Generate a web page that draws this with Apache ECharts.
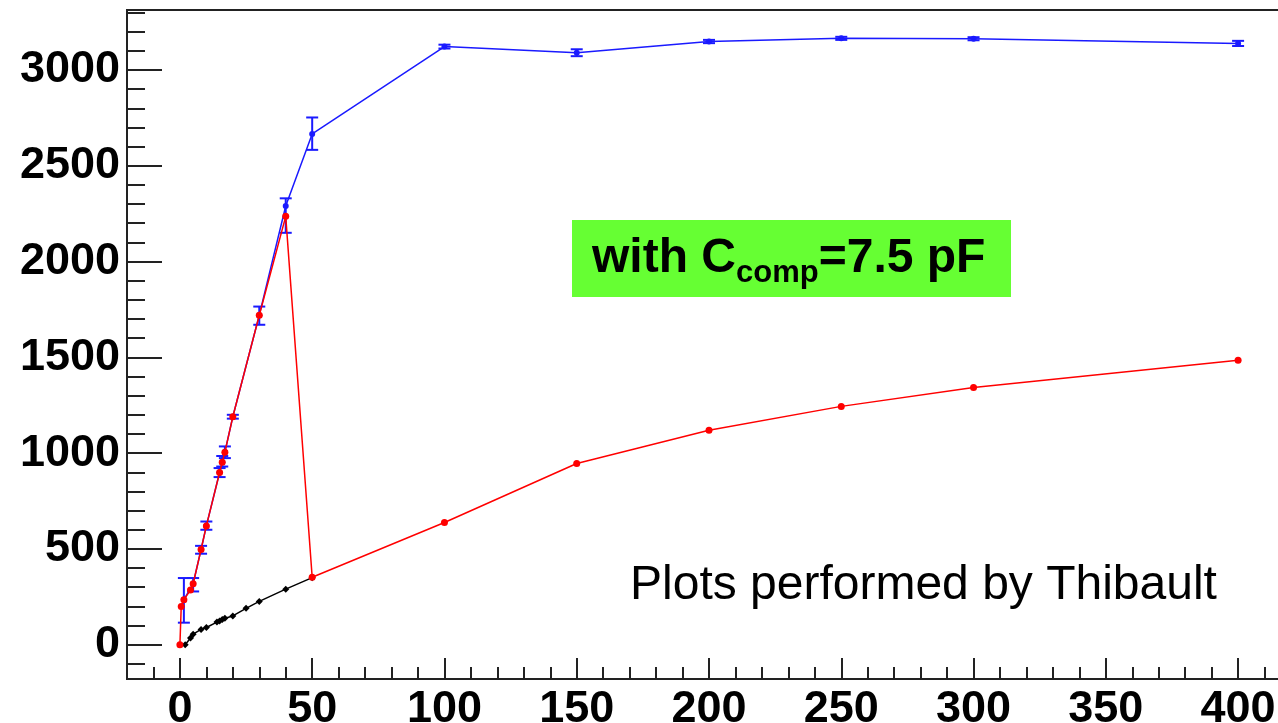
<!DOCTYPE html>
<html>
<head>
<meta charset="utf-8">
<script src="https://cdn.jsdelivr.net/npm/echarts@6/dist/echarts.min.js"></script>
<style>
  html, body { margin: 0; padding: 0; background: #fff; }
  #chart { width: 1278px; height: 723px; }
</style>
</head>
<body>
<div id="chart"></div>
<script>
// blue curve (with error bars)
var blueX = [1.5, 5, 8, 10, 15, 16, 17, 20, 30, 40, 50, 100, 150, 200, 250, 300, 400]
var blueY = [235, 318, 497, 620, 899, 953, 1005, 1190, 1720, 2290, 2666, 3122, 3090, 3148, 3165, 3163, 3138]
var blueLow = [115, 278, 475, 600, 875, 930, 974, 1180, 1670, 2150, 2583, 3112, 3072, 3140, 3157, 3155, 3125]
var blueHigh = [348, 348, 516, 643, 922, 985, 1035, 1200, 1765, 2330, 2752, 3132, 3108, 3157, 3173, 3171, 3152]

// red curve
var redX = [0, 0.5, 1.5, 4, 5, 8, 10, 15, 16, 17, 20, 30, 40, 50, 100, 150, 200, 250, 300, 400]
var redY = [0, 200, 235, 285, 318, 497, 620, 899, 953, 1005, 1190, 1720, 2236, 352, 638, 946, 1119, 1244, 1343, 1485]

// black curve
var blackX = [2, 4, 5, 8, 10, 14, 15, 16, 17, 20, 25, 30, 40, 50]
var blackY = [0, 35, 55, 80, 90, 118, 124, 132, 138, 150, 190, 226, 290, 350]

// axis ticks
var xMajor = [0, 50, 100, 150, 200, 250, 300, 350, 400]
var yMajor = [0, 500, 1000, 1500, 2000, 2500, 3000]

var xMinor = []
for (var i = -10; i <= 410; i += 10) {
  if (i % 50 !== 0) xMinor.push(i)
}
var yMinor = []
for (var j = -100; j <= 3300; j += 100) {
  if (j % 500 !== 0) yMinor.push(j)
}

function pairs (xs, ys) {
  return xs.map(function (x, k) { return [x, ys[k]] })
}

function errorBars (xs, lows, highs, color) {
  return {
    type: 'custom',
    xAxisIndex: 0,
    yAxisIndex: 0,
    z: 3,
    data: xs.map(function (x, k) { return [x, lows[k], highs[k]] }),
    encode: { x: 0, y: [1, 2] },
    renderItem: function (params, api) {
      var top = api.coord([api.value(0), api.value(2)])
      var bot = api.coord([api.value(0), api.value(1)])
      var half = 6
      var st = { stroke: color, lineWidth: 2 }
      return {
        type: 'group',
        children: [
          { type: 'line', shape: { x1: top[0], y1: top[1], x2: bot[0], y2: bot[1] }, style: st },
          { type: 'line', shape: { x1: top[0] - half, y1: top[1], x2: top[0] + half, y2: top[1] }, style: st },
          { type: 'line', shape: { x1: bot[0] - half, y1: bot[1], x2: bot[0] + half, y2: bot[1] }, style: st }
        ]
      }
    }
  }
}

var labelFont = {
  color: '#000',
  fontFamily: 'Liberation Sans, Arial, sans-serif',
  fontWeight: 'bold',
  fontSize: 45,
  formatter: function (v) { return String(v) }
}

var myChart = echarts.init(document.getElementById('chart'))
var option = {
  animation: false,
  grid: {
    left: 127,
    right: -13,
    top: 10,
    bottom: 44,
    outerBoundsMode: 'none',
    containLabel: false,
    show: true,
    borderColor: '#222',
    borderWidth: 2
  },
  xAxis: [
    {
      type: 'value',
      min: -20,
      max: 420,
      position: 'bottom',
      axisLine: { onZero: false, lineStyle: { color: '#222', width: 2 } },
      axisTick: { inside: true, length: 21, customValues: xMajor, lineStyle: { color: '#222', width: 2 } },
      axisLabel: Object.assign({ customValues: xMajor, margin: 8 }, labelFont),
      splitLine: { show: false }
    },
    {
      type: 'value',
      min: -20,
      max: 420,
      position: 'bottom',
      axisLine: { show: false, onZero: false },
      axisTick: { inside: true, length: 12, customValues: xMinor, lineStyle: { color: '#222', width: 2 } },
      axisLabel: { show: false },
      splitLine: { show: false }
    }
  ],
  yAxis: [
    {
      type: 'value',
      min: -179,
      max: 3313,
      position: 'left',
      axisLine: { onZero: false, lineStyle: { color: '#222', width: 2 } },
      axisTick: { inside: true, length: 35, customValues: yMajor, lineStyle: { color: '#222', width: 2 } },
      axisLabel: Object.assign({ customValues: yMajor, margin: 7 }, labelFont),
      splitLine: { show: false }
    },
    {
      type: 'value',
      min: -179,
      max: 3313,
      position: 'left',
      axisLine: { show: false, onZero: false },
      axisTick: { inside: true, length: 18, customValues: yMinor, lineStyle: { color: '#222', width: 2 } },
      axisLabel: { show: false },
      splitLine: { show: false }
    }
  ],
  series: [
    {
      type: 'line',
      data: pairs(blueX, blueY),
      z: 2,
      symbol: 'circle',
      symbolSize: 6,
      itemStyle: { color: '#1a1aff' },
      lineStyle: { color: '#1a1aff', width: 1.5 }
    },
    errorBars(blueX, blueLow, blueHigh, '#1a1aff'),
    {
      type: 'line',
      data: pairs(blackX, blackY),
      z: 4,
      symbol: 'diamond',
      symbolSize: 7,
      itemStyle: { color: '#000' },
      lineStyle: { color: '#000', width: 1.5 }
    },
    {
      type: 'line',
      data: pairs(redX, redY),
      z: 5,
      symbol: 'circle',
      symbolSize: 7,
      itemStyle: { color: '#ff0000' },
      lineStyle: { color: '#ff0000', width: 1.5 }
    }
  ],
  graphic: [
    {
      type: 'rect',
      left: 572,
      top: 220,
      shape: { width: 439, height: 77 },
      style: { fill: '#66ff33' },
      z: 10
    },
    {
      type: 'text',
      x: 592,
      y: 259,
      z: 11,
      style: {
        text: '{a|with C}{b|comp}{a|=7.5 pF}',
        verticalAlign: 'middle',
        align: 'left',
        rich: {
          a: { fontFamily: 'Liberation Sans, Arial, sans-serif', fontWeight: 'bold', fontSize: 48, lineHeight: 60, fill: '#000' },
          b: { fontFamily: 'Liberation Sans, Arial, sans-serif', fontWeight: 'bold', fontSize: 31, lineHeight: 23, verticalAlign: 'bottom', fill: '#000' }
        }
      }
    },
    {
      type: 'text',
      x: 630,
      y: 586,
      z: 11,
      style: {
        text: 'Plots performed by Thibault',
        fontFamily: 'Liberation Sans, Arial, sans-serif',
        fontSize: 48,
        fill: '#000',
        verticalAlign: 'middle',
        align: 'left'
      }
    }
  ]
}
myChart.setOption(option)
</script>
</body>
</html>
